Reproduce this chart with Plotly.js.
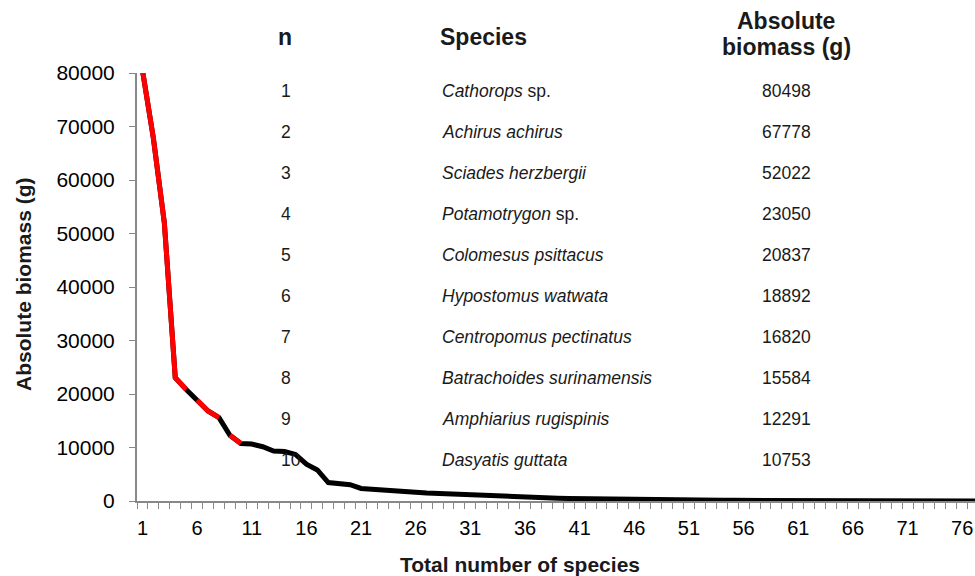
<!DOCTYPE html>
<html>
<head>
<meta charset="utf-8">
<script src="https://cdn.plot.ly/plotly-3.0.1.min.js"></script>
<style>
html,body{margin:0;padding:0;background:#fff;}
#chart{width:975px;height:576px;}
</style>
</head>
<body>
<div id="chart"></div>
<script>
// ---- data ----
const ranks = Array.from({length: 78}, (_, i) => i + 1);
const biomass = [
  80498, 67778, 52022, 23050, 20837, 18892, 16820, 15584, 12291, 10753,
  10650, 10150, 9350, 9250, 8700, 6900, 5800, 3450, 3200, 3050,
  2350, 2250, 2150, 2050, 1900, 1650, 1500, 1400, 1300, 1200,
  1100, 1000, 950, 900, 850, 800, 620, 580, 520, 470,
  430, 390, 350, 320, 290, 260, 240, 220, 200, 185,
  170, 160, 150, 140, 130, 120, 110, 100, 95, 90,
  85, 80, 75, 70, 65, 60, 55, 50, 45, 40,
  35, 30, 25, 20, 15, 10, 5, 3
];
// segments (start rank) drawn in red
const redSegmentStarts = [1, 2, 3, 4, 6, 7, 9];
const xTickLabels = ['1','6','11','16','21','26','31','36','41','46','51','56','61','66','71','76'];
const yTickValues = [0, 10000, 20000, 30000, 40000, 50000, 60000, 70000, 80000];

const tableN = ['1','2','3','4','5','6','7','8','9','10'];
const tableSpecies = [
  '<i>Cathorops</i> sp.', '<i>Achirus achirus</i>', '<i>Sciades herzbergii</i>',
  '<i>Potamotrygon</i> sp.', '<i>Colomesus psittacus</i>', '<i>Hypostomus watwata</i>',
  '<i>Centropomus pectinatus</i>', '<i>Batrachoides surinamensis</i>',
  '<i>Amphiarius rugispinis</i>', '<i>Dasyatis guttata</i>'
];
const tableBiomass = ['80498','67778','52022','23050','20837','18892','16820','15584','12291','10753'];
const headers = ['n', 'Species', 'Absolute', 'biomass (g)'];

// ---- build red runs ----
const rx = [], ry = [];
let prevEnd = null;
redSegmentStarts.forEach(s => {
  if (prevEnd !== s) {
    if (rx.length) { rx.push(null); ry.push(null); }
    rx.push(ranks[s - 1]); ry.push(biomass[s - 1]);
  }
  rx.push(ranks[s]); ry.push(biomass[s]);
  prevEnd = s + 1;
});

const font = 'Liberation Sans, Arial, sans-serif';
const L = 137, R = 975, T = 73, B = 501;
const CAT = 10.93;
const px = x => (x - L) / (R - L);
const py = y => (B - y) / (B - T);

const traces = [
  {x: ranks, y: biomass, mode: 'lines', line: {color: '#000', width: 5}, hoverinfo: 'x+y'},
  {x: rx, y: ry, mode: 'lines', connectgaps: false, line: {color: '#ff0000', width: 5}, hoverinfo: 'x+y'}
];

const txt = '#1a1a1a';
const ann = [];
const hdr = (x, y, t, anchor) => ann.push({xref:'paper', yref:'paper', x: px(x), y: py(y), text: '<b>' + t + '</b>',
  showarrow:false, xanchor:anchor, yanchor:'middle', font:{family:font, size:23, color:txt}});
hdr(285, 37, headers[0], 'center');
hdr(438, 37, headers[1], 'left');
hdr(786, 21, headers[2], 'center');
hdr(786, 47, headers[3], 'center');

for (let i = 0; i < tableN.length; i++) {
  const yy = py(91 + 41 * i);
  ann.push({xref:'paper', yref:'paper', x: px(279), y: yy, text: tableN[i], showarrow:false,
    xanchor:'left', yanchor:'middle', font:{family:font, size:17.5, color:txt}});
  ann.push({xref:'paper', yref:'paper', x: px(440), y: yy, text: tableSpecies[i], showarrow:false,
    xanchor:'left', yanchor:'middle', font:{family:font, size:17.5, color:txt}});
  ann.push({xref:'paper', yref:'paper', x: px(786), y: yy, text: tableBiomass[i], showarrow:false,
    xanchor:'center', yanchor:'middle', font:{family:font, size:17.5, color:txt}});
}
// axis titles
ann.push({xref:'paper', yref:'paper', x: px(23), y: py(284), text: '<b>Absolute biomass (g)</b>', showarrow:false,
  textangle:-90, xanchor:'center', yanchor:'middle', font:{family:font, size:21, color:txt}});
ann.push({xref:'paper', yref:'paper', x: px(520), y: py(564), text: '<b>Total number of species</b>', showarrow:false,
  xanchor:'center', yanchor:'middle', font:{family:font, size:21, color:txt}});

const layout = {
  width: 975, height: 576,
  margin: {l: L, r: 975 - R, t: T, b: 576 - B, pad: 0},
  paper_bgcolor: '#fff', plot_bgcolor: '#fff',
  showlegend: false,
  xaxis: {
    range: [0.5, 0.5 + (R - L) / CAT],
    tickmode: 'array', tickvals: xTickLabels.map(Number), ticktext: xTickLabels,
    ticks: '', showgrid: false, zeroline: false,
    showline: true, linecolor: '#888', linewidth: 2,
    tickfont: {family: font, size: 20, color: '#000'},
    ticklabelstandoff: 8,
    ticklabeloverflow: 'allow',
    minor: {tickmode: 'linear', tick0: 0.5, dtick: 1, ticks: 'outside', ticklen: 6, tickcolor: '#888', tickwidth: 1, showgrid: false}
  },
  yaxis: {
    range: [0, 80000], tickmode: 'array', tickvals: yTickValues, ticktext: yTickValues.map(String),
    ticks: 'outside', ticklen: 6, tickcolor: '#888', tickwidth: 1,
    showgrid: false, zeroline: false,
    showline: true, linecolor: '#888', linewidth: 2,
    tickfont: {family: font, size: 21, color: '#000'},
    ticklabelstandoff: 10
  },
  annotations: ann
};

Plotly.newPlot('chart', traces, layout, {displayModeBar: false, staticPlot: true});
</script>
</body>
</html>
